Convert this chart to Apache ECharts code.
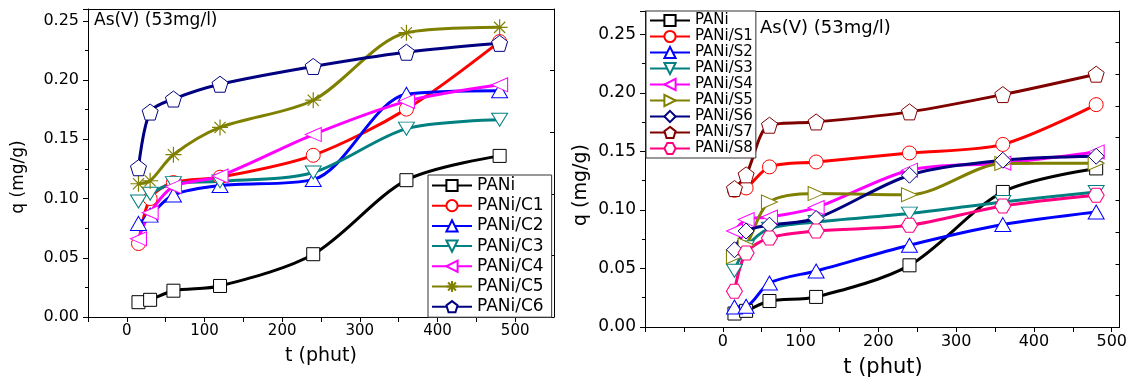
<!DOCTYPE html>
<html><head><meta charset="utf-8">
<script src="https://cdn.jsdelivr.net/npm/echarts@6/dist/echarts.min.js"></script>
<style>html,body{margin:0;padding:0;background:#fff}#c{width:1130px;height:385px}</style>
</head><body><div id="c"></div>
<script>
// time points (phut)
const times = [15, 30, 60, 120, 240, 360, 480];

// left panel: PANi / PANi-C series, q (mg/g)
const leftNames = ['PANi', 'PANi/C1', 'PANi/C2', 'PANi/C3', 'PANi/C4', 'PANi/C5', 'PANi/C6'];
const paniL = [0.0125, 0.0145, 0.0222, 0.0262, 0.0530, 0.1155, 0.1360];
const c1 = [0.062, 0.100, 0.1135, 0.118, 0.1365, 0.1755, 0.2325];
const c2 = [0.079, 0.086, 0.103, 0.111, 0.116, 0.188, 0.191];
const c3 = [0.0975, 0.104, 0.113, 0.1145, 0.122, 0.159, 0.1665];
const c4 = [0.066, 0.088, 0.110, 0.119, 0.154, 0.182, 0.196];
const c5 = [0.1125, 0.115, 0.137, 0.160, 0.183, 0.240, 0.2445];
const c6 = [0.126, 0.173, 0.184, 0.1965, 0.2115, 0.2235, 0.231];

// right panel: PANi / PANi-S series
const rightNames = ['PANi', 'PANi/S1', 'PANi/S2', 'PANi/S3', 'PANi/S4', 'PANi/S5', 'PANi/S6', 'PANi/S7', 'PANi/S8'];
const paniR = [0.0115, 0.0138, 0.0222, 0.0257, 0.0527, 0.1154, 0.1355];
const s1 = [0.1168, 0.1188, 0.1368, 0.141, 0.1487, 0.156, 0.190];
const s2 = [0.0171, 0.0177, 0.0376, 0.0479, 0.0698, 0.0875, 0.0983];
const s3 = [0.0480, 0.068, 0.084, 0.0897, 0.0969, 0.1068, 0.1154];
const s4 = [0.082, 0.0918, 0.094, 0.102, 0.134, 0.140, 0.1496];
const s5 = [0.060, 0.070, 0.1068, 0.114, 0.113, 0.1397, 0.140];
const s6 = [0.066, 0.082, 0.087, 0.0927, 0.1297, 0.1425, 0.1459];
const s7 = [0.1183, 0.130, 0.1724, 0.1752, 0.1838, 0.1986, 0.216];
const s8 = [0.0305, 0.0633, 0.0761, 0.082, 0.0869, 0.1034, 0.1126];

// axis tick settings
const leftX = {min: -50, max: 550, step: 50};
const leftY = {min: 0, max: 0.26, step: 0.05};
const rightX = {min: -100, max: 510, step: 50};
const rightY = {min: 0, max: 0.27, step: 0.05};

const FONT = 'DejaVu Sans';
const SYM = {
  square: 'rect',
  circle: 'circle',
  up: 'triangle',
  down: 'path://M0,0 L10,0 L5,9 Z',
  left: 'path://M10,0 L10,10 L0,5 Z',
  right: 'path://M0,0 L0,10 L10,5 Z',
  star: 'path://M0,5 L10,5 M5,0 L5,10 M1.5,1.5 L8.5,8.5 M8.5,1.5 L1.5,8.5',
  pent: 'path://M5,0 L10,3.8 L8.1,10 L1.9,10 L0,3.8 Z',
  diamond: 'diamond',
  hex: 'path://M0,5 L2.6,0.5 L7.4,0.5 L10,5 L7.4,9.5 L2.6,9.5 Z'
};

function mk(name, vals, color, sym, size, idx) {
  const isStar = sym === 'star';
  return {
    type: 'line', name: name,
    xAxisIndex: idx * 2, yAxisIndex: idx * 2,
    data: times.map((t, i) => [t, vals[i]]),
    smooth: 0.3,
    symbol: SYM[sym], symbolSize: size,
    showAllSymbol: true,
    lineStyle: {color: color, width: 3},
    itemStyle: {color: isStar ? 'rgba(0,0,0,0)' : '#fff', borderColor: color, borderWidth: isStar ? 1.2 : 1},
    emphasis: {disabled: true},
    animation: false
  };
}

function xLabel(v) {
  const r = Math.round(v);
  return (r < 0 || r % 100 !== 0) ? '' : String(r);
}
function yLabel(v) { return v.toFixed(2); }

const axisLine = {show: true, onZero: false, lineStyle: {color: '#000', width: 1}};

function xAxes(g, cfg, fs) {
  return [{
    gridIndex: g, type: 'value', position: 'bottom', min: cfg.min, max: cfg.max, interval: cfg.step,
    axisLine: axisLine, axisTick: {show: true, length: 5, lineStyle: {color: '#000'}},
    axisLabel: {formatter: xLabel, fontSize: fs, fontFamily: FONT, color: '#000', margin: 7, showMaxLabel: false},
    splitLine: {show: false}
  }, {
    gridIndex: g, type: 'value', position: 'top', min: cfg.min, max: cfg.max, interval: cfg.step,
    axisLine: axisLine, axisTick: {show: false},
    axisLabel: {show: false}, splitLine: {show: false}
  }];
}
function yAxes(g, cfg, fs, rmax) {
  return [{
    gridIndex: g, type: 'value', position: 'left', min: cfg.min, max: cfg.max, interval: cfg.step,
    axisLine: axisLine, axisTick: {show: true, length: 5, lineStyle: {color: '#000'}},
    minorTick: {show: true, splitNumber: 2, length: 3, lineStyle: {color: '#000'}},
    axisLabel: {formatter: yLabel, fontSize: fs, fontFamily: FONT, color: '#000', margin: 9, showMaxLabel: false},
    splitLine: {show: false}
  }, {
    gridIndex: g, type: 'value', position: 'right', min: 0, max: rmax, interval: 1,
    axisLine: axisLine, axisTick: {show: true, inside: true, length: 4, lineStyle: {color: '#000'}},
    axisLabel: {show: false}, splitLine: {show: false}
  }];
}

const xa = [].concat(xAxes(0, leftX, 15), xAxes(1, rightX, 16));
const ya = [].concat(yAxes(0, leftY, 16, 5), yAxes(1, rightY, 17, 10));

const series = [
  mk('PANi', paniL, '#000000', 'square', 13, 0),
  mk('PANi/C1', c1, '#FF0000', 'circle', 14, 0),
  mk('PANi/C2', c2, '#0000FF', 'up', [16, 14], 0),
  mk('PANi/C3', c3, '#008080', 'down', [16, 13], 0),
  mk('PANi/C4', c4, '#FF00FF', 'left', [16, 14], 0),
  mk('PANi/C5', c5, '#808000', 'star', 16, 0),
  mk('PANi/C6', c6, '#000080', 'pent', 16, 0),
  mk('PANi', paniR, '#000000', 'square', 13, 1),
  mk('PANi/S1', s1, '#FF0000', 'circle', 14, 1),
  mk('PANi/S2', s2, '#0000FF', 'up', [16, 14], 1),
  mk('PANi/S3', s3, '#008080', 'down', [16, 13], 1),
  mk('PANi/S4', s4, '#FF00FF', 'left', [16, 14], 1),
  mk('PANi/S5', s5, '#808000', 'right', [16, 14], 1),
  mk('PANi/S6', s6, '#000080', 'diamond', [16, 16], 1),
  mk('PANi/S7', s7, '#800000', 'pent', 16, 1),
  mk('PANi/S8', s8, '#FF0080', 'hex', [16, 14], 1)
];

function txt(text, x, y, size, align, rot) {
  return {
    type: 'text', x: x, y: y, rotation: rot || 0, silent: true, z: 100,
    style: {text: text, font: size + 'px "' + FONT + '"', fill: '#000', align: align || 'center', verticalAlign: 'middle'}
  };
}

const chart = echarts.init(document.getElementById('c'), null, {renderer: 'canvas'});
chart.setOption({
  animation: false,
  backgroundColor: '#fff',
  grid: [
    {left: 88, top: 9, width: 466, height: 308},
    {left: 645, top: 11, width: 476, height: 316}
  ],
  xAxis: xa,
  yAxis: ya,
  legend: [{
    orient: 'vertical', left: 428, top: 175, data: leftNames, selectedMode: false,
    itemWidth: 40, itemHeight: 14, itemGap: 3.2, padding: [2, 8, 2, 3],
    borderColor: '#333', borderWidth: 1, backgroundColor: '#fff',
    textStyle: {fontSize: 17, fontFamily: FONT, color: '#000', lineHeight: 16}
  }, {
    orient: 'vertical', left: 646, top: 11, data: rightNames, selectedMode: false,
    itemWidth: 40, itemHeight: 14, itemGap: 1, padding: [2, 3, 2, 3],
    borderColor: '#333', borderWidth: 1, backgroundColor: '#fff',
    textStyle: {fontSize: 15, fontFamily: FONT, color: '#000', lineHeight: 14}
  }],
  graphic: [
    txt('q (mg/g)', 19, 177, 17, 'center', Math.PI / 2),
    txt('t (phut)', 321, 356, 19, 'center'),
    txt('As(V) (53mg/l)', 94, 21, 17, 'left'),
    txt('q (mg/g)', 581, 185, 19, 'center', Math.PI / 2),
    txt('t (phut)', 883, 368, 21, 'center'),
    txt('As(V) (53mg/l)', 760, 28, 18, 'left')
  ],
  series: series
});
</script>
</body></html>
